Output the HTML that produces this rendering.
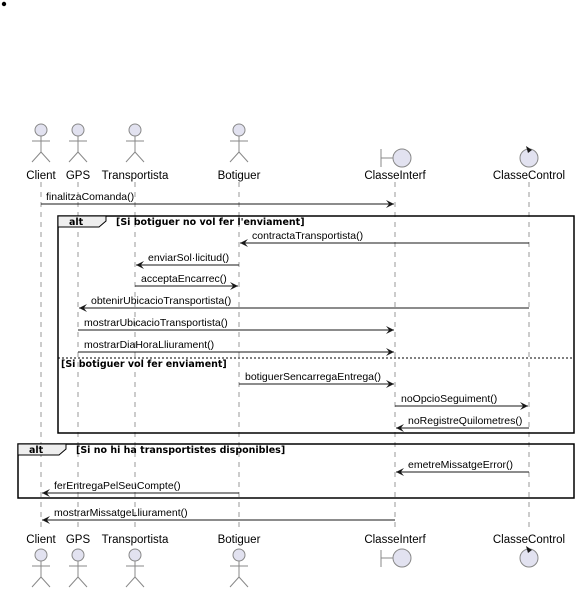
<!DOCTYPE html>
<html><head><meta charset="utf-8"><style>
html,body{margin:0;padding:0;background:#fff;width:588px;height:589px;overflow:hidden}
svg{display:block}
text{font-family:"Liberation Sans","DejaVu Sans",sans-serif;font-size:10.5px;fill:#000}
.b{font-weight:bold;font-size:9.5px;font-family:"DejaVu Sans","Liberation Sans",sans-serif}
.n{font-size:11.5px}
</style></head><body>
<svg width="588" height="589" viewBox="0 0 588 589" xmlns="http://www.w3.org/2000/svg">
<defs>
<marker id="a" viewBox="0 0 10 10" refX="10" refY="5" markerWidth="10" markerHeight="8" orient="auto-start-reverse" markerUnits="userSpaceOnUse">
<path d="M0,0 L10,5 L0,10 L4,5 Z" fill="#181818"/>
</marker>
<g id="actor" stroke="#888" stroke-width="1" fill="#e2e2f0">
<circle cx="0" cy="0" r="6"/>
<line x1="0" y1="6" x2="0" y2="22" fill="none"/>
<line x1="-9" y1="11" x2="9" y2="11"/>
<line x1="0" y1="22" x2="-9" y2="32"/>
<line x1="0" y1="22" x2="9" y2="32"/>
</g>
</defs>
<circle cx="4" cy="4" r="2.2" fill="#000"/>

<!-- lifelines -->
<g stroke="#999" stroke-width="1" stroke-dasharray="5,5">
<line x1="41" y1="182" x2="41" y2="530"/>
<line x1="78" y1="182" x2="78" y2="530"/>
<line x1="135" y1="182" x2="135" y2="530"/>
<line x1="239" y1="182" x2="239" y2="530"/>
<line x1="395" y1="182" x2="395" y2="530"/>
<line x1="529" y1="182" x2="529" y2="530"/>
</g>

<!-- top participants -->
<use href="#actor" x="41" y="130"/>
<use href="#actor" x="78" y="130"/>
<use href="#actor" x="135" y="130"/>
<use href="#actor" x="239" y="130"/>
<g stroke="#888" fill="#e2e2f0">
<line x1="381" y1="149" x2="381" y2="167"/><line x1="381" y1="158" x2="393" y2="158"/>
<circle cx="402" cy="158" r="9"/>
<circle cx="529" cy="158" r="9"/>
</g>
<path d="M526,146 L532,150 L528,153 Z" fill="#181818"/>
<text class="n" x="41" y="179" text-anchor="middle">Client</text>
<text class="n" x="78" y="179" text-anchor="middle">GPS</text>
<text class="n" x="135" y="179" text-anchor="middle">Transportista</text>
<text class="n" x="239" y="179" text-anchor="middle">Botiguer</text>
<text class="n" x="395" y="179" text-anchor="middle">ClasseInterf</text>
<text class="n" x="529" y="179" text-anchor="middle">ClasseControl</text>

<!-- bottom participants -->
<text class="n" x="41" y="543" text-anchor="middle">Client</text>
<text class="n" x="78" y="543" text-anchor="middle">GPS</text>
<text class="n" x="135" y="543" text-anchor="middle">Transportista</text>
<text class="n" x="239" y="543" text-anchor="middle">Botiguer</text>
<text class="n" x="395" y="543" text-anchor="middle">ClasseInterf</text>
<text class="n" x="529" y="543" text-anchor="middle">ClasseControl</text>
<use href="#actor" x="41" y="555"/>
<use href="#actor" x="78" y="555"/>
<use href="#actor" x="135" y="555"/>
<use href="#actor" x="239" y="555"/>
<g stroke="#888" fill="#e2e2f0">
<line x1="381" y1="550" x2="381" y2="567"/><line x1="381" y1="558" x2="393" y2="558"/>
<circle cx="402" cy="558" r="9"/>
<circle cx="529" cy="558" r="9"/>
</g>
<path d="M526,546 L532,550 L528,553 Z" fill="#181818"/>

<!-- frames -->
<g fill="none" stroke="#000" stroke-width="1.5">
<rect x="58" y="216" width="516" height="217"/>
<rect x="18" y="444" width="556" height="54"/>
</g>
<line x1="58" y1="358" x2="574" y2="358" stroke="#000" stroke-width="1" stroke-dasharray="2,2"/>
<path d="M58,216 L106,216 L106,221 L99,227 L58,227 Z" fill="#eee" stroke="#000" stroke-width="1"/>
<text class="b" x="69" y="225">alt</text>
<text class="b" x="116" y="225">[Si botiguer no vol fer l'enviament]</text>
<text class="b" x="61" y="367">[Si botiguer vol fer enviament]</text>
<path d="M18,444 L66,444 L66,449 L59,455 L18,455 Z" fill="#eee" stroke="#000" stroke-width="1"/>
<text class="b" x="29" y="453">alt</text>
<text class="b" x="76" y="453">[Si no hi ha transportistes disponibles]</text>

<!-- messages -->
<g stroke="#181818" stroke-width="1" marker-end="url(#a)">
<line x1="41" y1="204" x2="394" y2="204"/>
<line x1="529" y1="243" x2="240" y2="243"/>
<line x1="239" y1="265" x2="136" y2="265"/>
<line x1="135" y1="286" x2="238" y2="286"/>
<line x1="529" y1="308" x2="79" y2="308"/>
<line x1="78" y1="330" x2="394" y2="330"/>
<line x1="78" y1="352" x2="394" y2="352"/>
<line x1="239" y1="384" x2="394" y2="384"/>
<line x1="395" y1="406" x2="528" y2="406"/>
<line x1="529" y1="428" x2="396" y2="428"/>
<line x1="529" y1="472" x2="396" y2="472"/>
<line x1="239" y1="493" x2="42" y2="493"/>
<line x1="395" y1="520" x2="42" y2="520"/>
</g>
<text x="46" y="200">finalitzaComanda()</text>
<text x="252" y="239">contractaTransportista()</text>
<text x="148" y="261">enviarSol·licitud()</text>
<text x="141" y="282">acceptaEncarrec()</text>
<text x="91" y="304">obtenirUbicacioTransportista()</text>
<text x="84" y="326">mostrarUbicacioTransportista()</text>
<text x="84" y="348">mostrarDiaHoraLliurament()</text>
<text x="245" y="380">botiguerSencarregaEntrega()</text>
<text x="401" y="402">noOpcioSeguiment()</text>
<text x="408" y="424">noRegistreQuilometres()</text>
<text x="408" y="468">emetreMissatgeError()</text>
<text x="54" y="489">ferEntregaPelSeuCompte()</text>
<text x="54" y="516">mostrarMissatgeLliurament()</text>
</svg>
</body></html>
